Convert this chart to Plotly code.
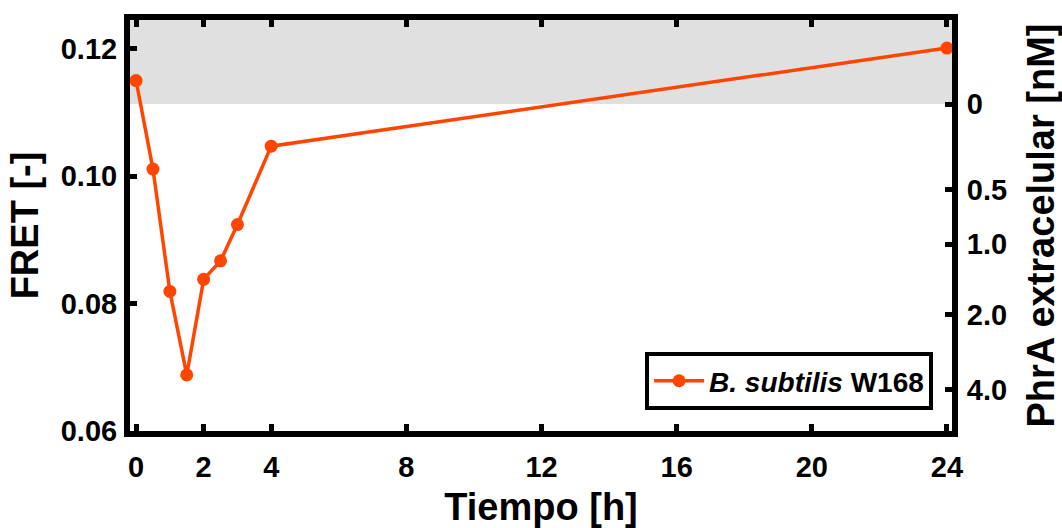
import plotly.graph_objects as go

# Data
time_h = [0, 0.5, 1, 1.5, 2, 2.5, 3, 4, 24]
fret = [0.1150, 0.1011, 0.0819, 0.0688, 0.0838, 0.0867, 0.0924, 0.1047, 0.1201]
series_name = "<i>B. subtilis</i> W168"

x_ticks = [0, 2, 4, 8, 12, 16, 20, 24]
fret_ticks = [0.06, 0.08, 0.10, 0.12]

# Right axis: PhrA concentration labels placed at the corresponding FRET values
phra_labels = ["0", "0.5", "1.0", "2.0", "4.0"]
phra_tick_fret = [0.1113, 0.0979, 0.0893, 0.0783, 0.0665]

# Saturation band (FRET above the 0 nM level)
band_fret_min = 0.1113

x_range = [-0.18, 24.15]
y_range = [0.06, 0.1245]

color = "#FF4500"
font_family = "Liberation Sans, Arial, sans-serif"

fig = go.Figure()

fig.add_shape(type="rect", xref="paper", yref="y", x0=0, x1=1,
              y0=band_fret_min, y1=y_range[1],
              fillcolor="#E0E0E0", line=dict(width=0), layer="below")

fig.add_trace(go.Scatter(
    x=time_h, y=fret, mode="lines+markers", name=series_name,
    line=dict(color=color, width=3.5),
    marker=dict(color=color, size=13),
))

# dummy trace to activate the right axis
fig.add_trace(go.Scatter(x=[None], y=[None], yaxis="y2", showlegend=False,
                         hoverinfo="skip"))

axis_common = dict(
    showline=True, linecolor="black", linewidth=6,
    ticks="inside", ticklen=7, tickwidth=5, tickcolor="black",
    showgrid=False, zeroline=False, automargin=False,
    tickfont=dict(family=font_family, size=29, color="black", weight="bold"),
)

title_font = dict(family=font_family, size=38, color="black", weight="bold")

fig.update_layout(
    width=1062, height=528,
    margin=dict(l=130, r=110, t=20, b=97, autoexpand=False),
    plot_bgcolor="white", paper_bgcolor="white",
    font=dict(family=font_family, color="black"),
    xaxis=dict(
        **axis_common, mirror="ticks", range=x_range,
        tickvals=x_ticks, ticklabelstandoff=5,
        title=dict(text="Tiempo [h]", standoff=20, font=title_font),
    ),
    yaxis=dict(
        **axis_common, mirror=True, range=y_range,
        tickvals=fret_ticks, tickformat=".2f", ticklabelstandoff=1,
        title=dict(text="FRET [-]", standoff=12, font=title_font),
    ),
    yaxis2=dict(
        **axis_common, overlaying="y", side="right", anchor="x",
        range=y_range, tickvals=phra_tick_fret, ticktext=phra_labels,
        ticklabelstandoff=3,
        title=dict(text="PhrA extracelular [nM]", standoff=24, font=title_font),
    ),
    legend=dict(
        x=0.977, y=0.051, xanchor="right", yanchor="bottom",
        bgcolor="white", bordercolor="black", borderwidth=4,
        itemwidth=50,
        font=dict(family=font_family, size=28, color="black", weight="bold"),
    ),
    showlegend=True,
)

fig.write_html("out.html")
